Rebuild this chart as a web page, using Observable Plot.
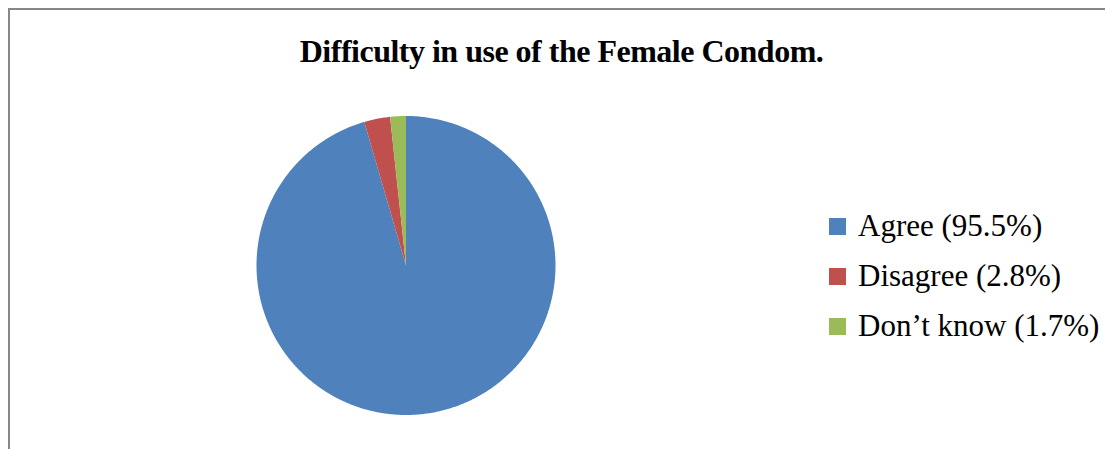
<!DOCTYPE html>
<html>
<head>
<meta charset="utf-8">
<script src="https://cdn.jsdelivr.net/npm/d3@7"></script>
<script src="https://cdn.jsdelivr.net/npm/@observablehq/plot@0.6"></script>
<style>
  html, body { margin: 0; padding: 0; background: #fff; overflow: hidden; }
  #frame {
    position: absolute; left: 8px; top: 8px; width: 1200px; height: 600px;
    border-left: 2px solid #878787; border-top: 2px solid #878787;
  }
  #title {
    position: absolute; left: 0; top: 33px; width: 1123px; text-align: center;
    font-family: "Liberation Serif", "Times New Roman", serif; font-weight: bold;
    font-size: 32px; color: #000; white-space: nowrap; letter-spacing: -0.5px;
  }
  #chart { position: absolute; left: 0; top: 0; }
  #legend { position: absolute; left: 829px; top: 201px; }
  .row { display: flex; align-items: center; height: 50px; }
  .sw { width: 17px; height: 17px; margin-right: 12px; }
  .lab { font-family: "Liberation Serif", "Times New Roman", serif; font-size: 31px; color: #000; white-space: nowrap; }
</style>
</head>
<body>
<div id="frame"></div>
<div id="chart"></div>
<div id="title">Difficulty in use of the Female Condom.</div>
<div id="legend"></div>
<script>
// Survey responses: share of respondents (%)
const categories = ["Agree", "Disagree", "Don’t know"];
const shares = [95.5, 2.8, 1.7];
const colors = ["#4F81BD", "#C0504D", "#9BBB59"];
const legendLabels = ["Agree (95.5%)", "Disagree (2.8%)", "Don’t know (1.7%)"];

const rows = categories.map((c, i) => ({category: c, share: shares[i]}));

// Clockwise from 12 o'clock, in the order the categories are listed
const arcs = d3.pie().sort(null).value(d => d.share)(rows);

// Unit-circle point at angle a (clockwise from top, screen y pointing down)
const pt = a => [Math.sin(a), -Math.cos(a)];

function slicePolygon(start, end) {
  const n = Math.max(2, Math.ceil((end - start) / 0.01));
  const ring = [[0, 0]];
  for (let k = 0; k <= n; k++) ring.push(pt(start + (end - start) * k / n));
  ring.push([0, 0]);
  return ring;
}

const slices = arcs.map(a => ({
  type: "Feature",
  properties: {category: a.data.category},
  geometry: {type: "Polygon", coordinates: [slicePolygon(a.startAngle, a.endAngle)]}
}));

const disc = {type: "Polygon", coordinates: [slicePolygon(0, 2 * Math.PI)]};

const W = 1105, H = 449;
const cx = 405.5, cy = 265, r = 149.5;

const chart = Plot.plot({
  width: W,
  height: H,
  marginLeft: cx - r,
  marginRight: W - cx - r,
  marginTop: cy - r,
  marginBottom: H - cy - r,
  projection: {type: "identity", domain: disc},
  color: {domain: categories, range: colors},
  marks: [
    Plot.geo(slices, {fill: d => d.properties.category, stroke: "none"})
  ]
});
document.getElementById("chart").appendChild(chart);

const legend = document.getElementById("legend");
categories.forEach((c, i) => {
  const row = document.createElement("div");
  row.className = "row";
  const sw = document.createElement("div");
  sw.className = "sw";
  sw.style.background = colors[i];
  const lab = document.createElement("div");
  lab.className = "lab";
  lab.textContent = legendLabels[i];
  row.appendChild(sw);
  row.appendChild(lab);
  legend.appendChild(row);
});
</script>
</body>
</html>
